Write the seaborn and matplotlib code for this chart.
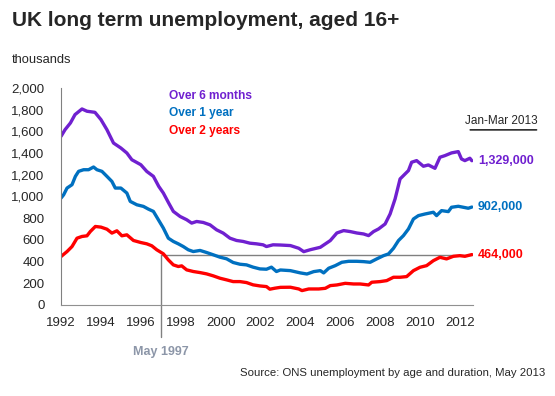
import matplotlib.pyplot as plt
import seaborn as sns
import pandas as pd

# series (thousands), x in axis years
yr_6m = [1992.0, 1992.2, 1992.47, 1992.7, 1993.05, 1993.3, 1993.7, 1994.0, 1994.3, 1994.63,
         1995.0, 1995.3, 1995.55, 1996.0, 1996.3, 1996.63, 1996.9, 1997.13, 1997.4, 1997.63,
         1997.97, 1998.3, 1998.55, 1998.8, 1999.13, 1999.47, 1999.8, 2000.13, 2000.47, 2000.8,
         2001.13, 2001.47, 2001.8, 2002.13, 2002.3, 2002.63, 2003.0, 2003.5, 2003.92, 2004.17,
         2004.5, 2005.0, 2005.25, 2005.5, 2005.83, 2006.17, 2006.5, 2006.83, 2007.17, 2007.42,
         2007.67, 2007.92, 2008.25, 2008.5, 2008.75, 2009.0, 2009.25, 2009.42, 2009.58, 2009.83,
         2010.17, 2010.42, 2010.75, 2011.0, 2011.25, 2011.58, 2011.92, 2012.08, 2012.25, 2012.5,
         2012.6]
val_6m = [1554, 1615, 1677, 1754, 1806, 1785, 1775, 1708, 1615, 1492,
          1446, 1400, 1338, 1292, 1230, 1185, 1092, 1031, 938, 862,
          815, 785, 754, 769, 760, 738, 692, 662, 615, 594,
          585, 569, 563, 554, 538, 554, 552, 547, 522, 491,
          509, 531, 562, 593, 663, 685, 676, 663, 654, 639,
          676, 700, 746, 838, 977, 1161, 1207, 1238, 1315, 1330,
          1278, 1290, 1259, 1361, 1376, 1401, 1413, 1345, 1330, 1352,
          1329]

yr_1y = [1992.0, 1992.13, 1992.3, 1992.55, 1992.72, 1992.88, 1993.13, 1993.38, 1993.63, 1993.8,
         1994.05, 1994.3, 1994.55, 1994.72, 1995.0, 1995.3, 1995.47, 1995.8, 1996.13, 1996.38,
         1996.63, 1996.88, 1997.13, 1997.38, 1997.63, 1997.88, 1998.13, 1998.38, 1998.63, 1998.97,
         1999.3, 1999.63, 1999.97, 2000.3, 2000.63, 2000.97, 2001.3, 2001.63, 2001.97, 2002.3,
         2002.55, 2002.8, 2003.0, 2003.5, 2004.0, 2004.33, 2004.67, 2005.0, 2005.17, 2005.42,
         2005.75, 2006.08, 2006.42, 2006.83, 2007.17, 2007.5, 2007.83, 2008.17, 2008.42, 2008.67,
         2008.92, 2009.17, 2009.42, 2009.67, 2009.92, 2010.25, 2010.67, 2010.83, 2011.08, 2011.42,
         2011.58, 2011.92, 2012.17, 2012.42, 2012.6]
val_1y = [985, 1015, 1077, 1108, 1185, 1231, 1246, 1246, 1271, 1246,
          1231, 1185, 1138, 1077, 1077, 1031, 954, 923, 908, 883,
          862, 785, 708, 615, 585, 563, 538, 508, 492, 502,
          483, 462, 440, 425, 391, 375, 369, 348, 332, 329,
          348, 308, 322, 316, 295, 285, 307, 316, 295, 338,
          362, 393, 402, 402, 399, 393, 424, 454, 470, 522,
          593, 639, 700, 792, 823, 838, 854, 823, 869, 860,
          900, 909, 900, 891, 902]

yr_2y = [1992.0, 1992.3, 1992.55, 1992.8, 1993.05, 1993.3, 1993.47, 1993.72, 1994.0, 1994.3,
         1994.55, 1994.8, 1995.05, 1995.3, 1995.63, 1996.0, 1996.3, 1996.55, 1996.8, 1997.13,
         1997.38, 1997.63, 1997.88, 1998.05, 1998.3, 1998.63, 1998.97, 1999.3, 1999.63, 1999.97,
         2000.3, 2000.63, 2000.97, 2001.3, 2001.63, 2001.97, 2002.3, 2002.47, 2002.72, 2003.0,
         2003.5, 2003.92, 2004.08, 2004.42, 2004.92, 2005.25, 2005.5, 2005.83, 2006.25, 2006.67,
         2007.0, 2007.42, 2007.58, 2008.0, 2008.33, 2008.67, 2009.0, 2009.33, 2009.67, 2010.0,
         2010.33, 2010.67, 2011.0, 2011.33, 2011.67, 2012.0, 2012.25, 2012.6]
val_2y = [446, 492, 538, 615, 631, 637, 677, 723, 717, 698,
          662, 683, 637, 646, 594, 575, 563, 545, 508, 471,
          415, 369, 354, 360, 323, 308, 298, 286, 268, 246,
          231, 215, 215, 206, 185, 175, 169, 145, 154, 162,
          163, 147, 132, 147, 147, 153, 178, 184, 199, 193,
          193, 184, 209, 215, 224, 255, 255, 261, 316, 347,
          362, 408, 439, 424, 448, 454, 448, 464]

labels = ["Over 6 months", "Over 1 year", "Over 2 years"]
end_labels = ["1,329,000", "902,000", "464,000"]
end_values = [1329, 902, 464]
colors = ["#7020D0", "#0070C0", "#FF0000"]
year_ticks = list(range(1992, 2013, 2))
y_ticks = list(range(0, 2001, 200))
may_1997 = 1997.0

df = pd.concat([
    pd.DataFrame({"year": yr_6m, "value": val_6m, "series": labels[0]}),
    pd.DataFrame({"year": yr_1y, "value": val_1y, "series": labels[1]}),
    pd.DataFrame({"year": yr_2y, "value": val_2y, "series": labels[2]}),
])

sns.set_style("white")
plt.rcParams["font.family"] = ["Liberation Sans", "DejaVu Sans"]

fig = plt.figure(figsize=(5.55, 3.96), dpi=100)
ax = fig.add_axes([0.11, 0.23, 0.742, 0.548])

sns.lineplot(data=df, x="year", y="value", hue="series", palette=colors,
             hue_order=labels, linewidth=2.4, legend=False, ax=ax)

x_end = 2012.65
ax.set_xlim(1992, x_end)
ax.set_ylim(0, 2000)
ax.set_xticks(year_ticks)
ax.set_yticks(y_ticks)
ax.set_yticklabels([f"{v:,}" for v in y_ticks])
ax.tick_params(axis="both", length=0, labelsize=9.5)
ax.tick_params(axis="x", pad=9)
ax.tick_params(axis="y", pad=12)
ax.set_xlabel("")
ax.set_ylabel("")

for s in ["top", "right"]:
    ax.spines[s].set_visible(False)
ax.spines["left"].set_color("#808080")
ax.spines["bottom"].set_color("#909090")
ax.spines["bottom"].set_linestyle((0, (1, 1)))

# reference lines at May 1997 level
ax.plot([may_1997, x_end], [end_values[2], end_values[2]], color="#808080", lw=1, zorder=1)
ax.plot([may_1997, may_1997], [end_values[2], -300], color="#808080", lw=1,
        clip_on=False, zorder=1)
ax.text(may_1997, -430, "May 1997", color="#8C96A8", fontsize=9, fontweight="bold",
        ha="center", va="center")

# legend as coloured text
for i, (lab, col) in enumerate(zip(labels, colors)):
    ax.text(1997.4, 1925 - i * 160, lab, color=col, fontsize=8.6, fontweight="bold",
            va="center")

# end labels
for lab, v, col in zip(end_labels, end_values, colors):
    ax.text(x_end + 0.25, v, lab, color=col, fontsize=9, fontweight="bold", va="center")

fig.text(0.838, 0.695, "Jan-Mar 2013", fontsize=8.5, va="center", ha="left")
ax.annotate("", xy=(0.842, 0.672), xytext=(0.972, 0.672), xycoords="figure fraction",
            arrowprops=dict(arrowstyle="-", color="black", lw=1))

fig.text(0.022, 0.948, "UK long term unemployment, aged 16+", fontsize=15,
         fontweight="bold", va="center")
fig.text(0.022, 0.848, "thousands", fontsize=9.3, va="center")
fig.text(0.982, 0.058, "Source: ONS unemployment by age and duration, May 2013",
         fontsize=8.2, ha="right", va="center")

fig.savefig("out.png", dpi=100)
